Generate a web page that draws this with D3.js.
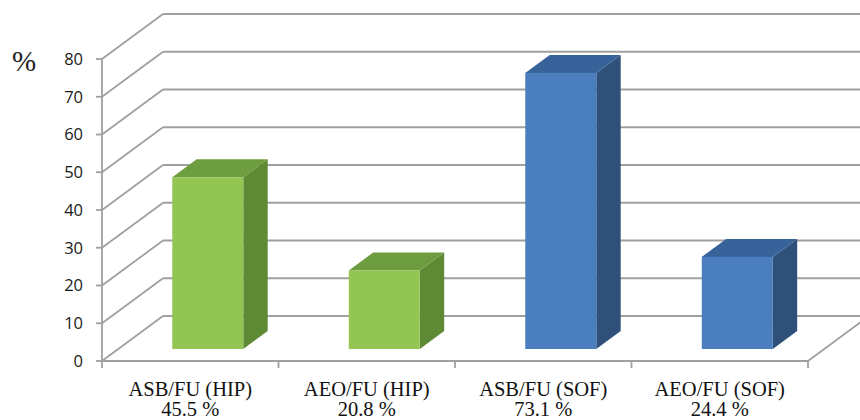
<!DOCTYPE html>
<html><head><meta charset="utf-8">
<script src="https://cdn.jsdelivr.net/npm/d3@7"></script>
<style>html,body{margin:0;padding:0;background:#fff;}svg{display:block;}</style>
</head><body>
<svg id="c" width="860" height="420"></svg>
<script>
const categories = ["ASB/FU (HIP)", "AEO/FU (HIP)", "ASB/FU (SOF)", "AEO/FU (SOF)"];
const valueLabels = ["45.5 %", "20.8 %", "73.1 %", "24.4 %"];
const values = [45.5, 20.8, 73.1, 24.4];
const groups = ["HIP", "HIP", "SOF", "SOF"];
const yTicks = [0, 10, 20, 30, 40, 50, 60, 70, 80];

const colors = {
  HIP: {front: "#92C552", side: "#5E8A36", top: "#6E9D3F"},
  SOF: {front: "#4A7EBE", side: "#2F5179", top: "#37639A"}
};

const svg = d3.select("#c");
const DX = 61, DY = -45; // full depth offset
const y = d3.scaleLinear().domain([0, 80]).range([361, 59]);
const x = d3.scaleBand().domain(categories).range([102, 808]).padding(0);
const depth = d => [DX * d, DY * d];
const grid = "#A0A0A0";

const g = svg.append("g");
yTicks.forEach(t => {
  const yy = y(t);
  g.append("line").attr("x1", 102).attr("y1", yy).attr("x2", 102 + DX).attr("y2", yy + DY)
    .attr("stroke", grid).attr("stroke-width", 1.8);
  g.append("line").attr("x1", 102 + DX).attr("y1", yy + DY).attr("x2", 900).attr("y2", yy + DY)
    .attr("stroke", grid).attr("stroke-width", 1.8);
});
g.append("line").attr("x1", 808).attr("y1", y(0)).attr("x2", 808 + DX).attr("y2", y(0) + DY)
  .attr("stroke", grid).attr("stroke-width", 1.8);
g.append("line").attr("x1", 102).attr("y1", y(0)).attr("x2", 808).attr("y2", y(0))
  .attr("stroke", grid).attr("stroke-width", 1.8);
g.append("line").attr("x1", 102).attr("y1", y(80)).attr("x2", 102).attr("y2", y(0))
  .attr("stroke", grid).attr("stroke-width", 1.8);
yTicks.forEach(t => {
  g.append("line").attr("x1", 96).attr("y1", y(t)).attr("x2", 102).attr("y2", y(t))
    .attr("stroke", grid).attr("stroke-width", 1.8);
  g.append("text").attr("x", 83).attr("y", y(t)).attr("dy", "0.36em")
    .attr("text-anchor", "end").attr("font-family", "Open Sans, Liberation Sans, sans-serif")
    .attr("font-size", 16.5).attr("fill", "#1a1a1a").text(t);
});
const catEdges = categories.map(c => x(c)).concat([x.range()[1]]);
catEdges.forEach(cx => {
  g.append("line").attr("x1", cx).attr("y1", y(0)).attr("x2", cx).attr("y2", y(0) + 7)
    .attr("stroke", grid).attr("stroke-width", 1.8);
});

const d0 = 0.267, dB = 0.4;
const barW = 71, inner = 54;
categories.forEach((c, i) => {
  const col = colors[groups[i]];
  const [fx, fy] = depth(d0);
  const [bx, by] = depth(dB);
  const x0 = x(c) + inner + fx, x1 = x0 + barW;
  const yb = y(0) + fy, yt = y(values[i]) + fy;
  g.append("path").attr("d", `M${x1},${yb}L${x1 + bx},${yb + by}L${x1 + bx},${yt + by}L${x1},${yt}Z`)
    .attr("fill", col.side);
  g.append("path").attr("d", `M${x0},${yt}L${x0 + bx},${yt + by}L${x1 + bx},${yt + by}L${x1},${yt}Z`)
    .attr("fill", col.top);
  g.append("rect").attr("x", x0).attr("y", yt).attr("width", barW).attr("height", yb - yt)
    .attr("fill", col.front);
  const cx = x(c) + x.bandwidth() / 2;
  const t = g.append("text").attr("text-anchor", "middle")
    .attr("font-family", "Liberation Serif, Times New Roman, serif").attr("font-size", 20.5).attr("fill", "#111");
  t.append("tspan").attr("x", cx).attr("y", 396).text(c);
  t.append("tspan").attr("x", cx).attr("y", 416).text(valueLabels[i]);
});

svg.append("text").attr("x", 24).attr("y", 71).attr("text-anchor", "middle")
  .attr("font-family", "Liberation Serif, serif").attr("font-size", 29).attr("fill", "#222").text("%");
</script>
</body></html>
